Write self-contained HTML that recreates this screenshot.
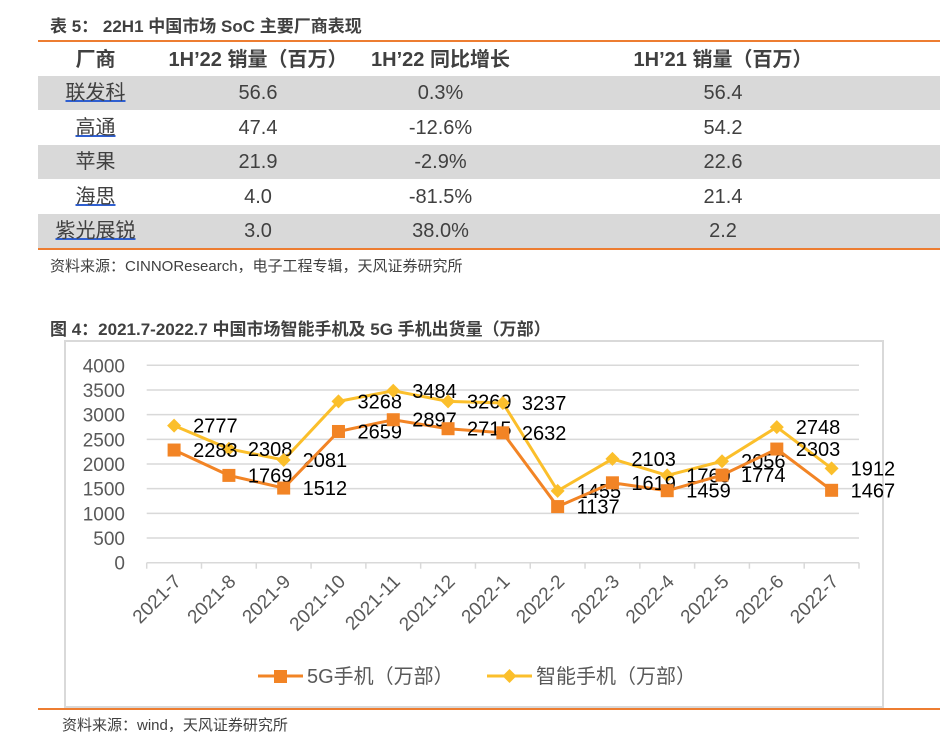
<!DOCTYPE html>
<html><head><meta charset="utf-8"><style>
body{margin:0;width:940px;height:744px;background:#fff;font-family:"Liberation Sans","Noto Sans CJK SC",sans-serif;position:relative;overflow:hidden}
.abs{position:absolute}
.title{font-weight:bold;color:#404040;font-size:17px}
.row{position:absolute;left:38px;width:902px;height:34px}
.cell{position:absolute;top:0;height:34px;line-height:34px;font-size:20px;color:#404040;text-align:center}
.u{text-decoration:underline;text-decoration-color:#2f5fd0}
</style></head><body>
<div class="abs title" style="left:50px;top:12px">表 5： 22H1 中国市场 SoC 主要厂商表现</div>
<div class="abs" style="left:38px;top:40px;width:902px;height:2px;background:#ed7d31"></div>
<div class="row" style="top:43px">
<div class="cell" style="left:30px;width:55px;font-weight:bold">厂商</div>
<div class="cell" style="left:130px;width:180px;font-weight:bold">1H’22 销量（百万）</div>
<div class="cell" style="left:310px;width:185px;font-weight:bold">1H’22 同比增长</div>
<div class="cell" style="left:590px;width:190px;font-weight:bold">1H’21 销量（百万）</div></div>
<div class="row" style="top:76px;background:#d9d9d9">
<div class="cell u" style="left:10px;width:95px">联发科</div><div class="cell" style="left:140px;width:160px">56.6</div><div class="cell" style="left:320px;width:165px">0.3%</div><div class="cell" style="left:600px;width:170px">56.4</div></div>
<div class="row" style="top:111px">
<div class="cell u" style="left:10px;width:95px">高通</div><div class="cell" style="left:140px;width:160px">47.4</div><div class="cell" style="left:320px;width:165px">-12.6%</div><div class="cell" style="left:600px;width:170px">54.2</div></div>
<div class="row" style="top:145px;background:#d9d9d9">
<div class="cell" style="left:10px;width:95px">苹果</div><div class="cell" style="left:140px;width:160px">21.9</div><div class="cell" style="left:320px;width:165px">-2.9%</div><div class="cell" style="left:600px;width:170px">22.6</div></div>
<div class="row" style="top:180px">
<div class="cell u" style="left:10px;width:95px">海思</div><div class="cell" style="left:140px;width:160px">4.0</div><div class="cell" style="left:320px;width:165px">-81.5%</div><div class="cell" style="left:600px;width:170px">21.4</div></div>
<div class="row" style="top:214px;background:#d9d9d9">
<div class="cell u" style="left:10px;width:95px">紫光展锐</div><div class="cell" style="left:140px;width:160px">3.0</div><div class="cell" style="left:320px;width:165px">38.0%</div><div class="cell" style="left:600px;width:170px">2.2</div></div>
<div class="abs" style="left:38px;top:248px;width:902px;height:2px;background:#ed7d31"></div>
<div class="abs" style="left:50px;top:255px;font-size:15px;color:#404040">资料来源：CINNOResearch，电子工程专辑，天风证券研究所</div>
<div class="abs title" style="left:50px;top:315px">图 4：2021.7-2022.7 中国市场智能手机及 5G 手机出货量（万部）</div>
<svg class="abs" style="left:0;top:0" width="940" height="744" id="chart"></svg>
<div class="abs" style="left:38px;top:708px;width:902px;height:2px;background:#ed7d31"></div>
<div class="abs" style="left:62px;top:714px;font-size:15px;color:#404040">资料来源：wind，天风证券研究所</div>
<script>
const categories=["2021-7","2021-8","2021-9","2021-10","2021-11","2021-12","2022-1","2022-2","2022-3","2022-4","2022-5","2022-6","2022-7"];
const fiveG=[2283,1769,1512,2659,2897,2715,2632,1137,1619,1459,1774,2303,1467];
const smart=[2777,2308,2081,3268,3484,3269,3237,1455,2103,1769,2056,2748,1912];
const yTicks=[0,500,1000,1500,2000,2500,3000,3500,4000];
const svg=document.getElementById('chart');const NS='http://www.w3.org/2000/svg';
const X0=146.7,X1=859,Y0=562.7,Y1=365.3,YMAX=4000;
const step=(X1-X0)/categories.length;
const x=i=>X0+step*(i+0.5);
const y=v=>Y0-(v/YMAX)*(Y0-Y1);
function mk(t,a){const e=document.createElementNS(NS,t);for(const k in a)e.setAttribute(k,a[k]);svg.appendChild(e);return e;}
let e=mk('rect',{x:65,y:341,width:818,height:366,fill:'none',stroke:'#d9d9d9','stroke-width':2});


yTicks.forEach(v=>{
 if(v>0){let g=mk('line',{x1:X0,x2:X1,y1:y(v),y2:y(v),stroke:'#d9d9d9','stroke-width':1.5});
 
 }
 let t=mk('text',{x:125,y:y(v)+7,'text-anchor':'end','font-size':19,fill:'#595959'});t.textContent=v;
 
 
});
e=mk('line',{x1:X0,x2:X1,y1:Y0,y2:Y0,stroke:'#d9d9d9','stroke-width':1.5});


for(let i=0;i<=categories.length;i++){let tk=mk('line',{x1:X0+step*i,x2:X0+step*i,y1:Y0,y2:Y0+6,stroke:'#d9d9d9','stroke-width':1.5});
 
 }
categories.forEach((c,i)=>{const tx=x(i)+8,ty=Y0+20;
 let t=mk('text',{x:tx,y:ty,'text-anchor':'end','font-size':19,fill:'#595959',transform:`rotate(-45 ${tx} ${ty})`});t.textContent=c;
 
 });
function series(data,color,name,marker){
 let p=mk('polyline',{points:data.map((v,i)=>x(i)+','+y(v)).join(' '),fill:'none',stroke:color,'stroke-width':3});
 
 
 data.forEach((v,i)=>{let m;
  if(marker==='sq')m=mk('rect',{x:x(i)-6.5,y:y(v)-6.5,width:13,height:13,fill:color});
  else m=mk('polygon',{points:`${x(i)},${y(v)-7} ${x(i)+7},${y(v)} ${x(i)},${y(v)+7} ${x(i)-7},${y(v)}`,fill:color});
  
  
  let t=mk('text',{x:x(i)+19,y:y(v)+7,'font-size':20,fill:'#000'});t.textContent=v;
  
  });
}
series(smart,'#fbbf2b','smartphone','dia');
series(fiveG,'#f28425','5g','sq');
e=mk('line',{x1:258,x2:303,y1:676,y2:676,stroke:'#f28425','stroke-width':3});


e=mk('rect',{x:274,y:670,width:13,height:13,fill:'#f28425'});


e=mk('text',{x:307,y:683,'font-size':20,fill:'#595959'});e.textContent='5G手机（万部）';


e=mk('line',{x1:487,x2:532,y1:676,y2:676,stroke:'#fbbf2b','stroke-width':3});


e=mk('polygon',{points:'509.5,669 516.5,676 509.5,683 502.5,676',fill:'#fbbf2b'});


e=mk('text',{x:536,y:683,'font-size':20,fill:'#595959'});e.textContent='智能手机（万部）';


</script>
</body></html>
